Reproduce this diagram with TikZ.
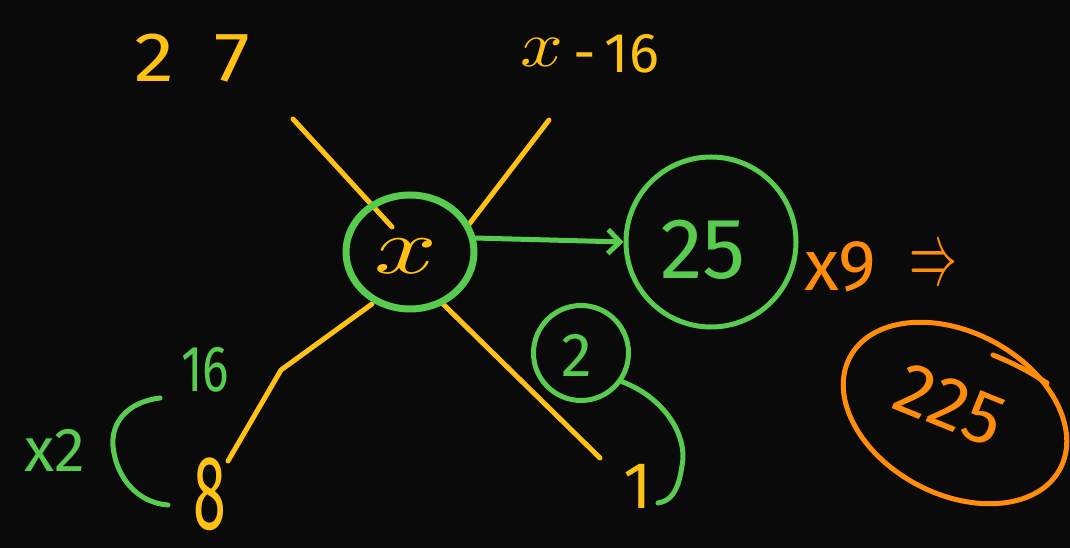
\documentclass[tikz,border=0pt]{standalone}
\usepackage{fontspec}
\usepackage{graphicx}
\setmainfont{Fira Sans}
\usetikzlibrary{shapes.geometric,arrows.meta}
\definecolor{bg}{RGB}{10,10,10}
\definecolor{hy}{RGB}{255,193,20}
\definecolor{hg}{RGB}{88,204,78}
\definecolor{ho}{RGB}{255,140,10}
\newcommand{\handx}[2]{\scalebox{#1}[#2]{\fontsize{10}{12}\selectfont$x$}}
\tikzset{
  pen/.style={line width=5pt, line cap=round, line join=round},
  ypen/.style={pen, draw=hy},
  gpen/.style={pen, draw=hg},
  orpen/.style={pen, draw=ho},
  ylbl/.style={text=hy, inner sep=0pt},
  glbl/.style={text=hg, inner sep=0pt},
  olbl/.style={text=ho, inner sep=0pt},
  fs/.style={font=\fontsize{#1}{#1}\selectfont}
}
\begin{document}
\begin{tikzpicture}[x=1pt,y=1pt]
\fill[bg] (0,0) rectangle (1070,548);
\useasboundingbox (0,0) rectangle (1070,548);

% yellow branches (drawn first, under the circle)
\coordinate (tlA) at (293,429);
\coordinate (tlB) at (392,321);
\coordinate (trA) at (549,428);
\coordinate (trB) at (467,321);
\coordinate (blA) at (372,244);
\coordinate (blK) at (281,178);
\coordinate (blB) at (228,87);
\coordinate (brA) at (443,244);
\coordinate (brB) at (600,90);
\draw[ypen] (tlA) -- (tlB);
\draw[ypen] (trA) -- (trB);
\draw[ypen] (blA) -- (blK) -- (blB);
\draw[ypen] (brA) -- (brB);

% top labels
\node[ylbl, fs=70] (t27) at (192,490) {\scalebox{1.15}[1]{2\,\,\,7}};
\node[ylbl, fs=56] (txm) at (590,494) {\raisebox{6pt}{\handx{7.5}{6.5}}\,-\,16};

% central node x
\node[gpen, draw, ellipse, line width=7pt, minimum width=128pt, minimum height=114pt, inner sep=0pt] (X) at (410,296) {};
\node[ylbl] (xl) at (406,292) {\handx{11}{8}};

% bottom yellow numbers
\node[ylbl, fs=66] (n8) at (210,54) {\scalebox{0.9}[1.6]{8}};
\node[ylbl, fs=66] (n1) at (638,62) {1};

% circle 25
\node[gpen, draw, circle, minimum size=170pt, inner sep=0pt] (C25) at (711,306) {};
\node[glbl, fs=86] (t25) at (703,298) {25};
\draw[gpen, -{Straight Barb[length=12pt,width=24pt]}] (X.12) -- (C25.west);

% x9 =>
\node[olbl, fs=72] (x9) at (840,281) {x9};
\node[olbl] (imp) at (933,280) {\scalebox{4.8}[9]{$\Rightarrow$}};

% 225 ellipse
\node[orpen, draw, ellipse, rotate=-28, minimum width=238pt, minimum height=162pt, inner sep=0pt] (E) at (955,135) {};
\node[olbl, fs=74, rotate=-22] (t225) at (950,143) {225};
\draw[orpen] (993,193) to[bend left=5] (1047,165);

% small circled 2 and its curve
\node[gpen, draw, circle, minimum size=95pt, inner sep=0pt] (C2) at (581,195) {};
\node[glbl, fs=62] (t2) at (577,193) {2};
\draw[gpen] (C2.-35) .. controls (665,150) and (688,112) .. (682,82)
  .. controls (678,55) and (670,47) .. (658,45);

% left green annotation
\node[glbl, fs=62] (t16) at (205,178) {\scalebox{0.8}[1.05]{16}};
\node[glbl, fs=62] (tx2) at (55,98) {x2};
\draw[gpen] (160,150) .. controls (127,146) and (111,125) .. (113,102)
  .. controls (116,70) and (138,45) .. (168,43);
\end{tikzpicture}
\end{document}
